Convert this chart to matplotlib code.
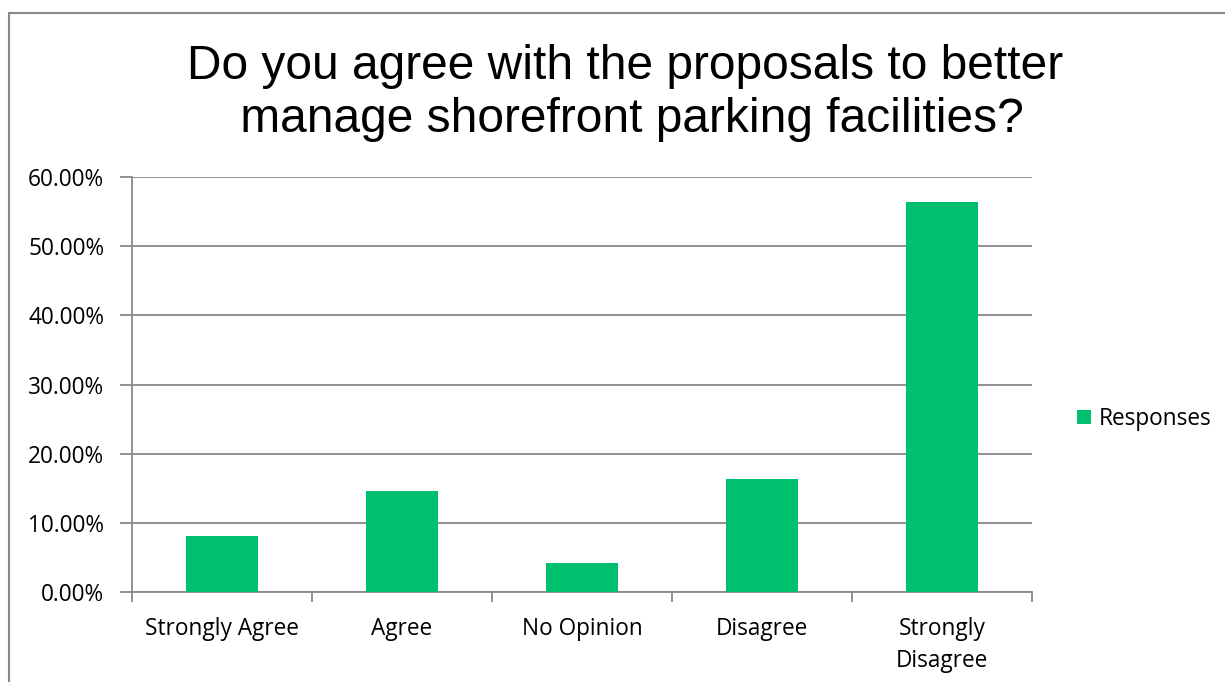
import matplotlib
matplotlib.use("Agg")
import matplotlib.pyplot as plt
from matplotlib.patches import Rectangle, Patch
from matplotlib.ticker import FuncFormatter, FixedLocator

categories = ["Strongly Agree", "Agree", "No Opinion", "Disagree", "Strongly\nDisagree"]
values = [8.1, 14.6, 4.2, 16.4, 56.4]
yticks = [0, 10, 20, 30, 40, 50, 60]
series_name = "Responses"
title = "Do you agree with the proposals to better\n manage shorefront parking facilities?"

green = "#00BF6F"
gray = "#898989"

W, H = 1225, 682
fig = plt.figure(figsize=(W / 100, H / 100), dpi=100)
fig.patch.set_facecolor("white")

# chart border
fig.patches.append(Rectangle((9 / W, -0.1), 1.2, 1.1 - 13 / H, transform=fig.transFigure,
                             fill=False, edgecolor=gray, linewidth=1.5, zorder=0))

ax = fig.add_axes([132 / W, 1 - 592 / H, 900 / W, 415 / H])
x = list(range(len(categories)))
ax.bar(x, values, width=0.4, color=green, zorder=3, label=series_name)
ax.set_xlim(-0.5, len(categories) - 0.5)
ax.set_ylim(0, 60)
ax.set_yticks(yticks)
ax.yaxis.set_major_formatter(FuncFormatter(lambda v, p: f"{v:.2f}%"))
ax.grid(axis="y", color=gray, linewidth=1.3, zorder=0)
ax.set_axisbelow(True)

for s in ["top", "right"]:
    ax.spines[s].set_visible(False)
for s in ["left", "bottom"]:
    ax.spines[s].set_color(gray)
    ax.spines[s].set_linewidth(1.3)

fam = ["Open Sans", "DejaVu Sans"]
fs = 16.3
lab_font = dict(family=fam, size=fs)
ax.set_xticks(x)
ax.set_xticklabels(categories, fontdict=lab_font, linespacing=1.45, va="top")
ax.xaxis.set_minor_locator(FixedLocator([i - 0.5 for i in range(len(categories) + 1)]))
ax.tick_params(axis="x", which="major", length=0, pad=18)
ax.tick_params(axis="x", which="minor", length=7, width=1.3, color=gray)
ax.tick_params(axis="y", length=9, width=1.3, color=gray, pad=11)
for t in ax.get_yticklabels():
    t.set_fontfamily(fam)
    t.set_fontsize(fs)

fig.text(625 / W, 1 - 93 / H, title, ha="center", va="center",
         family=["Liberation Sans", "DejaVu Sans"], fontsize=34.5, linespacing=1.25)

leg = fig.legend(handles=[Patch(facecolor=green, label=series_name)],
                 loc="center left", bbox_to_anchor=(1057 / W, 1 - 419 / H),
                 frameon=False, prop=dict(family=fam, size=fs),
                 handlelength=0.6, handleheight=0.6, handletextpad=0.35)

fig.savefig("out.png", dpi=100)
